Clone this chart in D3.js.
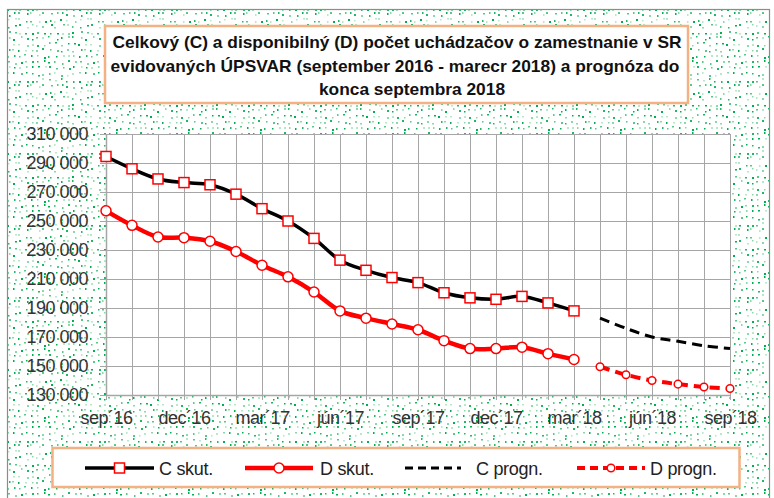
<!doctype html>
<head>
    <meta charset="utf-8">
    <title>Uchádzači o zamestnanie</title>
    <script src="https://d3js.org/d3.v7.min.js"></script>
    <style>
        body {margin:0; background:#fff;}
        svg {display:block; font-family:"Liberation Sans", Arial, sans-serif;}
        .grid line {stroke:#a6a6a6; stroke-width:1.5px; shape-rendering:crispEdges;}
        .grid path {display:none;}
        .axis path {stroke:#a6a6a6; stroke-width:1.5px;}
        .axis line {stroke:#a6a6a6; stroke-width:1.5px; shape-rendering:crispEdges;}
        .axis text {font-size:18px; fill:#333; letter-spacing:-0.5px;}
        .legend text {font-size:18px; fill:#222; letter-spacing:-0.3px;}
    </style>
</head>
<body>
    <script>
        "use strict";
        var months = ["sep´16","okt´16","nov´16","dec´16","jan´17","feb´17","mar´17","apr´17","máj´17","jún´17","júl´17","aug´17",
                      "sep´17","okt´17","nov´17","dec´17","jan´18","feb´18","mar´18","apr´18","máj´18","jún´18","júl´18","aug´18","sep´18"];
        var shownMonths = ["sep´16","dec´16","mar´17","jún´17","sep´17","dec´17","mar´18","jún´18","sep´18"];
        var yTicks = [130000,150000,170000,190000,210000,230000,250000,270000,290000,310000];

        // skutočnosť sep 2016 - mar 2018
        var cSkut = [294500,286000,279000,276500,275000,268500,258500,250000,238000,223000,216000,211000,207500,200500,197000,196000,198000,193500,188000];
        var dSkut = [257000,247000,239000,238500,236000,229000,219500,211500,201000,188000,183000,179000,175000,167500,162000,162000,163000,158500,154500];
        // prognóza apr 2018 - sep 2018
        var cProgn = [183000,176000,170000,167000,164000,162000];
        var dProgn = [149500,144000,140000,137500,135500,134500];

        var W = 774, H = 498;
        var svg = d3.select("body").append("svg").attr("width", W).attr("height", H);

        // confetti pattern of the chart area: one dot per small cell, jittered
        var defs = svg.append("defs");
        var T = 72, cell = 6;
        var pat = defs.append("pattern").attr("id", "confetti")
            .attr("patternUnits", "userSpaceOnUse").attr("width", T).attr("height", T);
        pat.append("rect").attr("width", T).attr("height", T).attr("fill", "#fff");
        var seed = 1234567;
        function rnd() { seed = (seed * 16807) % 2147483647; return seed / 2147483647; }
        for (var k = 0; k < 10; k++) rnd();
        var dotColors = ["#00b050","#1fb865","#55c985","#8ad9a8","#b8e8ca"];
        for (var gx = 0; gx < T; gx += cell) {
            for (var gy = 0; gy < T; gy += cell) {
                pat.append("rect")
                    .attr("x", gx + Math.floor(rnd() * (cell - 2)))
                    .attr("y", gy + Math.floor(rnd() * (cell - 2)))
                    .attr("width", rnd() < 0.55 ? 2 : 1.5).attr("height", rnd() < 0.6 ? 2 : 1.5)
                    .attr("fill", dotColors[Math.floor(rnd() * dotColors.length)]);
            }
        }

        svg.append("rect").attr("x", 7.5).attr("y", 9.5).attr("width", 762).attr("height", 500)
            .attr("fill", "url(#confetti)").attr("stroke", "#8c8c8c").attr("stroke-width", 1.2);

        // title
        svg.append("rect").attr("x", 105).attr("y", 26).attr("width", 583).attr("height", 77)
            .attr("fill", "#fff").attr("stroke", "#f4b183").attr("stroke-width", 2.5);
        var titleLines = [
            {t: "Celkový (C) a disponibilný (D) počet uchádzačov o zamestnanie v SR", cx: 397, y: 48},
            {t: "evidovaných ÚPSVAR (september 2016 - marecr 2018) a prognóza do", cx: 395, y: 72},
            {t: "konca septembra 2018", cx: 412, y: 95}
        ];
        var titles = svg.selectAll(".title").data(titleLines).enter().append("text")
            .attr("class", "title")
            .attr("y", function(d) { return d.y; })
            .style("font-size", "17px").style("font-weight", "bold").style("fill", "#111")
            .text(function(d) { return d.t; });
        // the original font is narrower, squeeze all lines by the same ratio
        var ratio = 569 / titles.nodes()[0].getComputedTextLength();
        titles.each(function(d) {
            var w = this.getComputedTextLength() * ratio;
            d3.select(this).attr("x", d.cx - w / 2).attr("textLength", w).attr("lengthAdjust", "spacingAndGlyphs");
        });

        // plot
        var pLeft = 106, pRight = 730, pTop = 134, pBottom = 395;
        var x = d3.scalePoint().domain(months).range([pLeft, pRight]);
        var y = d3.scaleLinear().domain([130000, 310000]).range([pBottom, pTop]);
        var fmt = d3.formatLocale({decimal: ",", thousands: " ", grouping: [3], currency: ["", ""]}).format(",");

        svg.append("rect").attr("x", pLeft).attr("y", pTop).attr("width", pRight - pLeft).attr("height", pBottom - pTop)
            .attr("fill", "#fff");

        svg.append("g").attr("class", "grid")
            .attr("transform", "translate(0," + pBottom + ")")
            .call(d3.axisBottom(x).tickSize(-(pBottom - pTop)).tickFormat(""));
        svg.append("g").attr("class", "grid")
            .attr("transform", "translate(" + pLeft + ",0)")
            .call(d3.axisLeft(y).tickValues(yTicks).tickSize(-(pRight - pLeft)).tickFormat(""));

        svg.append("g").attr("class", "axis")
            .attr("transform", "translate(" + pLeft + ",0)")
            .call(d3.axisLeft(y).tickValues(yTicks).tickSize(6).tickSizeOuter(0).tickPadding(12).tickFormat(fmt));
        var xAxis = svg.append("g").attr("class", "axis")
            .attr("transform", "translate(0," + pBottom + ")")
            .call(d3.axisBottom(x).tickSize(5).tickSizeOuter(0).tickPadding(14)
                .tickFormat(function(d) { return shownMonths.indexOf(d) >= 0 ? d : ""; }));
        xAxis.selectAll("text").attr("dy", "0.55em");

        var line = d3.line()
            .x(function(d) { return x(d.m); })
            .y(function(d) { return y(d.v); })
            .curve(d3.curveCatmullRom.alpha(0.5));

        function pts(vals, offset) {
            return vals.map(function(v, i) { return {m: months[i + offset], v: v}; });
        }
        var cS = pts(cSkut, 0), dS = pts(dSkut, 0);
        var cP = pts(cProgn, cSkut.length), dP = pts(dProgn, dSkut.length);

        svg.append("path").datum(cP).attr("d", line)
            .attr("fill", "none").attr("stroke", "#000").attr("stroke-width", 3).attr("stroke-dasharray", "10,6");
        svg.append("path").datum(dP).attr("d", line)
            .attr("fill", "none").attr("stroke", "#ff0000").attr("stroke-width", 4).attr("stroke-dasharray", "10,6");
        svg.append("path").datum(cS).attr("d", line)
            .attr("fill", "none").attr("stroke", "#000").attr("stroke-width", 3.5);
        svg.append("path").datum(dS).attr("d", line)
            .attr("fill", "none").attr("stroke", "#ff0000").attr("stroke-width", 4.5);

        svg.selectAll(".csq").data(cS).enter().append("rect")
            .attr("x", function(d) { return x(d.m) - 5; })
            .attr("y", function(d) { return y(d.v) - 5; })
            .attr("width", 10).attr("height", 10)
            .attr("fill", "#fff").attr("stroke", "#ff0000").attr("stroke-width", 1.5);
        svg.selectAll(".dci").data(dS).enter().append("circle")
            .attr("cx", function(d) { return x(d.m); })
            .attr("cy", function(d) { return y(d.v); })
            .attr("r", 5).attr("fill", "#fff").attr("stroke", "#ff0000").attr("stroke-width", 1.5);
        svg.selectAll(".dpc").data(dP).enter().append("circle")
            .attr("cx", function(d) { return x(d.m); })
            .attr("cy", function(d) { return y(d.v); })
            .attr("r", 3.8).attr("fill", "#fff").attr("stroke", "#ff0000").attr("stroke-width", 1.5);

        // legend
        svg.append("rect").attr("x", 52.5).attr("y", 448).attr("width", 687).attr("height", 39)
            .attr("fill", "#fff").attr("stroke", "#f4b183").attr("stroke-width", 2.5);
        var legendItems = [
            {name: "C skut.", x1: 85, x2: 154, tx: 159, color: "#000", w: 3.5, dash: null, mark: "square"},
            {name: "D skut.", x1: 245, x2: 313, tx: 320, color: "#ff0000", w: 4.5, dash: null, mark: "circle"},
            {name: "C progn.", x1: 405, x2: 461, tx: 476, color: "#000", w: 3, dash: "8,5", mark: null},
            {name: "D progn.", x1: 577, x2: 645, tx: 650, color: "#ff0000", w: 4, dash: "8,5", mark: "small"}
        ];
        var ly = 468;
        var lg = svg.append("g").attr("class", "legend");
        legendItems.forEach(function(it) {
            var mid = (it.x1 + it.x2) / 2;
            lg.append("line").attr("x1", it.x1).attr("x2", it.x2).attr("y1", ly).attr("y2", ly)
                .attr("stroke", it.color).attr("stroke-width", it.w).attr("stroke-dasharray", it.dash);
            if (it.mark === "square") {
                lg.append("rect").attr("x", mid - 5).attr("y", ly - 5).attr("width", 10).attr("height", 10)
                    .attr("fill", "#fff").attr("stroke", "#ff0000").attr("stroke-width", 1.5);
            } else if (it.mark) {
                lg.append("circle").attr("cx", mid).attr("cy", ly).attr("r", it.mark === "small" ? 3.8 : 5)
                    .attr("fill", "#fff").attr("stroke", "#ff0000").attr("stroke-width", 1.5);
            }
            lg.append("text").attr("x", it.tx).attr("y", ly + 6.5).text(it.name);
        });
    </script>
</body>
</html>
